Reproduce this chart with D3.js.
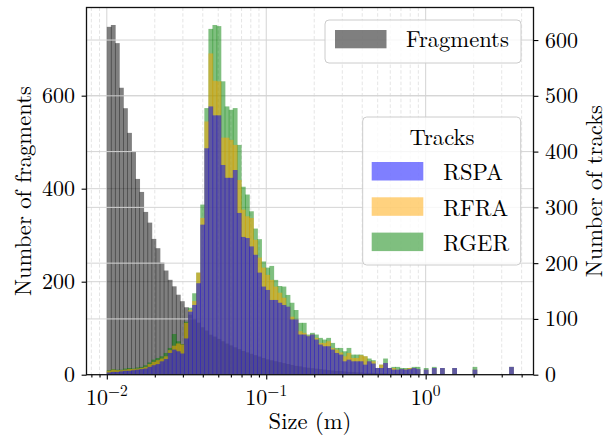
<!DOCTYPE html>
<html>
<head>
<meta charset="utf-8">
<script src="https://cdn.jsdelivr.net/npm/d3@7"></script>
<style>
  body { margin: 0; background: #fff; }
</style>
</head>
<body>
<svg id="chart" width="611" height="437"></svg>
<script>
// ---- histogram bins: 100 log-spaced bins between binLo and binHi (m) ----
const binLo = 0.01, binHi = 3.54, binCount = 100;

// fragment counts per bin (left axis)
const fragments = [
  748, 752, 713, 617, 573, 520, 480, 421, 393, 350,
  327, 292, 272, 241, 224, 204, 190, 172, 158, 145,
  129, 120, 112, 102, 95, 86, 82, 77, 72, 67,
  63, 59, 55, 51, 48, 45, 42, 39, 36, 33,
  31, 29, 27, 25, 23, 21, 19, 18, 16, 15,
  14, 13, 12, 11, 10, 9, 8, 8, 7, 6,
  6, 5, 5, 4, 4, 4, 3, 3, 3, 2,
  2, 2, 2, 2, 1, 1, 1, 1, 1, 1,
  1, 1, 0, 1, 0, 0, 1, 0, 0, 0,
  0, 0, 0, 0, 0, 0, 0, 0, 0, 1
];

// track counts per bin and campaign (right axis)
const rspa = [
  4, 5, 5, 6, 7, 7, 8, 9, 10, 11,
  14, 17, 19, 24, 28, 39, 45, 42, 38, 65,
  113, 125, 164, 269, 406, 481, 465, 465, 376, 353,
  353, 367, 290, 247, 245, 230, 215, 183, 158, 152,
  134, 134, 129, 125, 122, 99, 99, 72, 72, 69,
  72, 63, 54, 51, 51, 45, 39, 36, 24, 27,
  24, 24, 24, 18, 24, 20, 12, 12, 21, 12,
  9, 9, 10, 9, 10, 12, 10, 0, 9, 0,
  12, 0, 12, 0, 0, 12, 0, 0, 0, 0,
  9, 0, 0, 0, 0, 0, 0, 0, 0, 14
];
const rfra = [
  3, 4, 3, 2, 2, 3, 2, 2, 2, 3,
  5, 6, 7, 5, 5, 5, 7, 14, 16, 28,
  3, 7, 19, 12, 48, 95, 62, 61, 49, 72,
  68, 45, 59, 49, 39, 51, 27, 27, 34, 27,
  36, 24, 18, 13, 0, 5, 0, 6, 3, 1,
  0, 3, 3, 6, 9, 3, 6, 4, 9, 12,
  6, 6, 11, 15, 0, 4, 0, 6, 0, 0,
  3, 0, 0, 1, 2, 0, 0, 0, 0, 0,
  0, 0, 0, 0, 0, 0, 0, 0, 0, 0,
  0, 0, 0, 0, 0, 0, 0, 0, 0, 0
];
const rger = [
  1, 1, 1, 1, 2, 2, 1, 2, 2, 3,
  3, 4, 4, 4, 6, 4, 21, 4, 1, 2,
  4, 14, 0, 24, 24, 44, 100, 99, 101, 56,
  54, 66, 63, 41, 39, 12, 20, 33, 11, 13,
  25, 12, 12, 20, 21, 25, 17, 15, 18, 2,
  3, 6, 9, 6, 6, 9, 3, 8, 9, 9,
  6, 6, 1, 0, 5, 2, 0, 0, 8, 0,
  2, 5, 2, 2, 0, 2, 4, 0, 3, 0,
  2, 0, 0, 0, 0, 0, 0, 0, 0, 0,
  5, 0, 0, 0, 0, 0, 0, 0, 0, 0
];

// axis ticks and labels
const xMajorTicks = [0.01, 0.1, 1];
const xMajorExponents = ["\u22122", "\u22121", "0"];
const leftTicks = [0, 200, 400, 600];
const rightTicks = [0, 100, 200, 300, 400, 500, 600];
const trackSeries = ["RSPA", "RFRA", "RGER"];
const trackColors = ["#0000ff", "#ffa500", "#008000"];

const FONT = '"Latin Modern Roman", "CMU Serif", "Liberation Serif", serif';
const TICK_SIZE = "22px", LABEL_SIZE = "22.6px";

// ---- layout ----
const plot = { left: 86.5, right: 533.5, top: 7.5, bottom: 374.7 };
const svg = d3.select("#chart").style("font-family", FONT);

const lgLo = Math.log10(binLo), lgHi = Math.log10(binHi);
const lgStep = (lgHi - lgLo) / binCount;
const edges = d3.range(binCount + 1).map(i => Math.pow(10, lgLo + i * lgStep));
const pad = (lgHi - lgLo) * 0.05;

const x = d3.scaleLog()
  .domain([Math.pow(10, lgLo - pad), Math.pow(10, lgHi + pad)])
  .range([plot.left, plot.right]);

const yL = d3.scaleLinear()
  .domain([0, d3.max(fragments) * 1.05])
  .range([plot.bottom, plot.top]);

// cumulative tops of the three campaigns, drawn as overlapping bars from zero
const cumBlue = rspa.slice();
const cumOrange = rspa.map((v, i) => v + rfra[i]);
const cumGreen = rspa.map((v, i) => v + rfra[i] + rger[i]);

const yR = d3.scaleLinear()
  .domain([0, d3.max(cumGreen) * 1.05])
  .range([plot.bottom, plot.top]);

// minor tick values for the log axis
const [xd0, xd1] = x.domain();
const xMinorTicks = [];
[0.001, 0.01, 0.1, 1].forEach(dec => {
  for (let k = 2; k <= 9; k++) {
    const v = +(dec * k).toPrecision(6);
    if (v >= xd0 && v <= xd1) xMinorTicks.push(v);
  }
});

svg.append("defs").append("clipPath").attr("id", "plotclip")
  .append("rect")
  .attr("x", plot.left).attr("y", plot.top)
  .attr("width", plot.right - plot.left).attr("height", plot.bottom - plot.top);

const body = svg.append("g").attr("clip-path", "url(#plotclip)");

// grid of the fragments axis
const grid1 = body.append("g");
grid1.selectAll("line.vmin").data(xMinorTicks).join("line")
  .attr("x1", d => x(d)).attr("x2", d => x(d))
  .attr("y1", plot.top).attr("y2", plot.bottom)
  .attr("stroke", "#e2e2e2").attr("stroke-width", 0.9)
  .attr("stroke-dasharray", "3.5,2.2");
grid1.selectAll("line.vmaj").data(xMajorTicks).join("line")
  .attr("x1", d => x(d)).attr("x2", d => x(d))
  .attr("y1", plot.top).attr("y2", plot.bottom)
  .attr("stroke", "#d4d4d4").attr("stroke-width", 1);
grid1.selectAll("line.hl").data(leftTicks).join("line")
  .attr("x1", plot.left).attr("x2", plot.right)
  .attr("y1", d => yL(d)).attr("y2", d => yL(d))
  .attr("stroke", "#d4d4d4").attr("stroke-width", 1);

// fragments histogram
const seam = 0.7;
body.append("g").selectAll("rect").data(fragments).join("rect")
  .attr("x", (d, i) => x(edges[i]))
  .attr("width", (d, i) => x(edges[i + 1]) - x(edges[i]) + seam)
  .attr("y", d => yL(d))
  .attr("height", d => yL(0) - yL(d))
  .attr("fill", "#000").attr("fill-opacity", 0.5);

// grid of the tracks axis
body.append("g").selectAll("line").data(rightTicks).join("line")
  .attr("x1", plot.left).attr("x2", plot.right)
  .attr("y1", d => yR(d)).attr("y2", d => yR(d))
  .attr("stroke", "#d4d4d4").attr("stroke-width", 1);

// tracks histograms: total (green), RSPA+RFRA (orange), RSPA (blue)
[[cumGreen, trackColors[2]], [cumOrange, trackColors[1]], [cumBlue, trackColors[0]]]
  .forEach(([vals, col]) => {
    body.append("g").selectAll("rect").data(vals).join("rect")
      .attr("x", (d, i) => x(edges[i]))
      .attr("width", (d, i) => x(edges[i + 1]) - x(edges[i]) + seam)
      .attr("y", d => yR(d))
      .attr("height", d => yR(0) - yR(d))
      .attr("fill", col).attr("fill-opacity", 0.5);
  });

// ---- axes ----
const tickStyle = g => {
  g.attr("font-family", null).attr("font-size", null);
  g.select(".domain").remove();
  g.selectAll(".tick line").attr("stroke", "#000").attr("stroke-width", 1.1);
  g.selectAll(".tick text").style("font-size", TICK_SIZE).style("font-family", FONT);
};

svg.append("g").attr("transform", `translate(${plot.left},0)`)
  .call(d3.axisLeft(yL).tickValues(leftTicks).tickSize(4.9).tickPadding(6.5).tickSizeOuter(0))
  .call(tickStyle);

svg.append("g").attr("transform", `translate(${plot.right},0)`)
  .call(d3.axisRight(yR).tickValues(rightTicks).tickSize(4.9).tickPadding(6.5).tickSizeOuter(0))
  .call(tickStyle);

svg.append("g").attr("transform", `translate(0,${plot.bottom})`)
  .call(d3.axisBottom(x).tickValues(xMinorTicks).tickSize(2.8).tickFormat(() => "").tickSizeOuter(0))
  .call(tickStyle);

svg.append("g").attr("transform", `translate(0,${plot.bottom})`)
  .call(d3.axisBottom(x).tickValues(xMajorTicks).tickSize(4.9).tickFormat(() => "").tickSizeOuter(0))
  .call(tickStyle);

// decade labels with superscript exponents
const xLab = svg.append("g");
xMajorTicks.forEach((v, i) => {
  const t = xLab.append("text")
    .attr("x", x(v)).attr("y", 405)
    .attr("text-anchor", "middle")
    .style("font-family", FONT).style("font-size", TICK_SIZE);
  t.append("tspan").text("10");
  t.append("tspan").attr("dy", -9).style("font-size", "15.5px").text(xMajorExponents[i]);
});

// frame
svg.append("rect")
  .attr("x", plot.left).attr("y", plot.top)
  .attr("width", plot.right - plot.left).attr("height", plot.bottom - plot.top)
  .attr("fill", "none").attr("stroke", "#111").attr("stroke-width", 1.3);

const label = (sel) => sel.style("font-family", FONT).style("font-size", LABEL_SIZE);

// axis titles
svg.append("text")
  .attr("transform", `translate(31,${(plot.top + plot.bottom) / 2}) rotate(-90)`)
  .attr("text-anchor", "middle").call(label)
  .text("Number of fragments");

svg.append("text")
  .attr("transform", `translate(602,${(plot.top + plot.bottom) / 2}) rotate(-90)`)
  .attr("text-anchor", "middle").call(label)
  .text("Number of tracks");

svg.append("text")
  .attr("x", (plot.left + plot.right) / 2).attr("y", 429)
  .attr("text-anchor", "middle").call(label)
  .text("Size (m)");

// ---- legends ----
const legendBox = (x0, y0, w, h) => svg.append("rect")
  .attr("x", x0).attr("y", y0).attr("width", w).attr("height", h)
  .attr("rx", 4).attr("ry", 4)
  .attr("fill", "#fff").attr("fill-opacity", 0.8)
  .attr("stroke", "#cccccc").attr("stroke-width", 1);

legendBox(325, 20, 196, 43);
svg.append("rect").attr("x", 335).attr("y", 30).attr("width", 51.5).attr("height", 18.3)
  .attr("fill", "#000").attr("fill-opacity", 0.5);
svg.append("text").attr("x", 406).attr("y", 47).call(label)
  .text("Fragments");

legendBox(362.7, 117, 158, 148);
svg.append("text").attr("x", 442).attr("y", 145).call(label)
  .attr("text-anchor", "middle")
  .text("Tracks");
trackSeries.forEach((name, i) => {
  const yy = 162 + i * 35.3;
  svg.append("rect").attr("x", 371.7).attr("y", yy).attr("width", 51.6).attr("height", 18.5)
    .attr("fill", trackColors[i]).attr("fill-opacity", 0.5);
  svg.append("text").attr("x", 443.3).attr("y", yy + 18.3).call(label)
    .text(name);
});
</script>
</body>
</html>
